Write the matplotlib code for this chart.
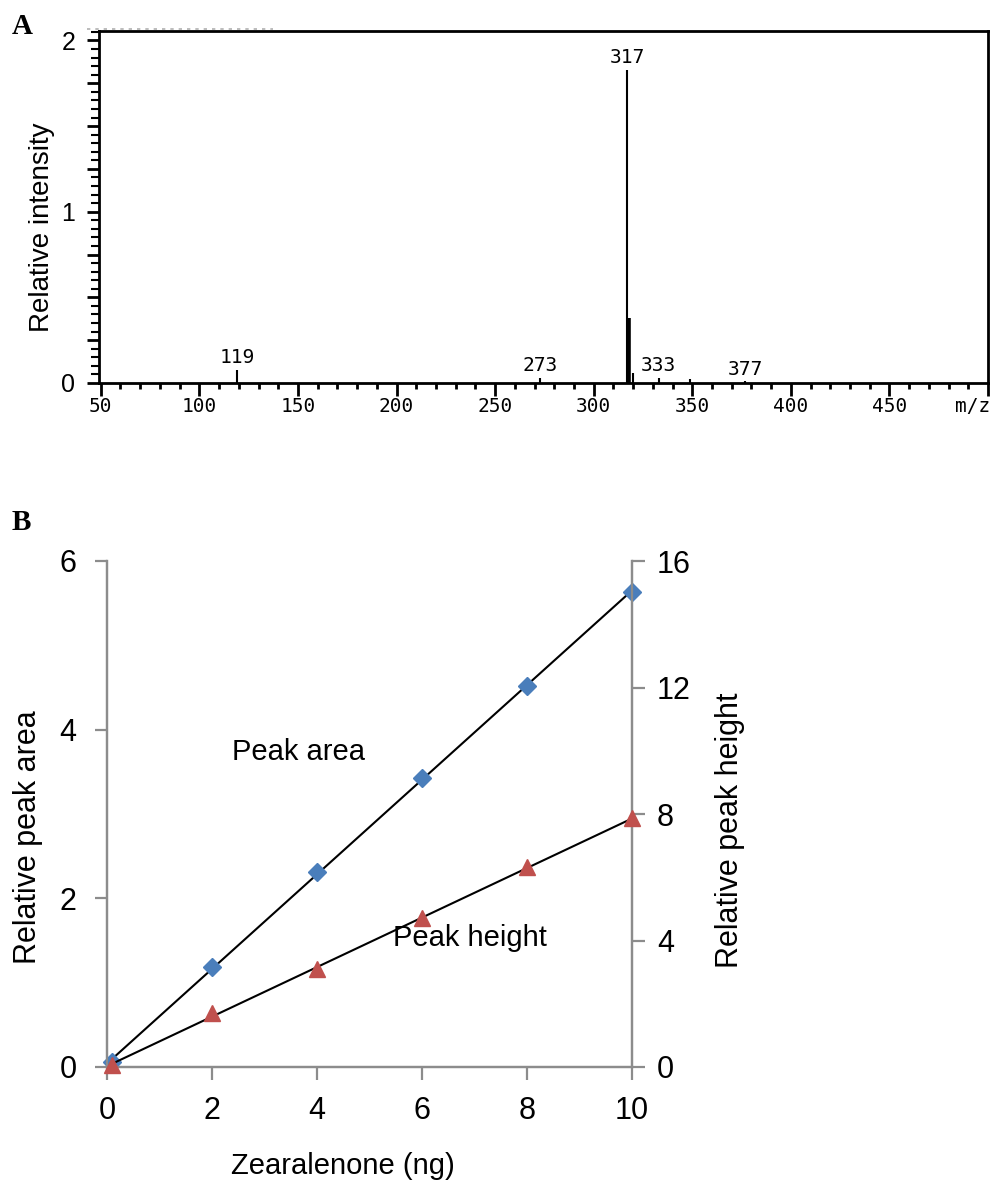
import numpy as np
import matplotlib
matplotlib.use("Agg")
import matplotlib.pyplot as plt
from matplotlib.ticker import MultipleLocator, FixedLocator, FuncFormatter

# ---------------- data ----------------
# Panel A: mass spectrum
mz = [119, 273, 317, 318, 320, 333, 349, 377]
intensity = [0.076, 0.03, 1.83, 0.38, 0.06, 0.03, 0.025, 0.01]
labeled_mz = [119, 273, 317, 333, 377]
a_xticks = [50, 100, 150, 200, 250, 300, 350, 400, 450]
a_yticks = [0, 1, 2]

# Panel B: calibration
amount_ng = [0.1, 2, 4, 6, 8, 10]
peak_area = [0.06, 1.18, 2.31, 3.43, 4.52, 5.63]
peak_height = [0.05, 1.72, 3.09, 4.70, 6.31, 7.86]
b_xticks = [0, 2, 4, 6, 8, 10]
b_left_ticks = [0, 2, 4, 6]
b_right_ticks = [0, 4, 8, 12, 16]

# ---------------- figure ----------------
W, H = 992, 1196
fig = plt.figure(figsize=(W / 100, H / 100), dpi=100)
sans = ["Liberation Sans", "DejaVu Sans"]
mono = ["DejaVu Sans Mono"]

# ---------------- Panel A ----------------
axA = fig.add_axes([99 / W, 1 - 383 / H, (988 - 99) / W, (383 - 31) / H])
lws = [2.6 if m == 318 else 1.5 for m in mz]
axA.vlines(mz, 0, intensity, colors="black", linewidths=lws)
for m in labeled_mz:
    h = intensity[mz.index(m)]
    axA.annotate(str(m), (m, h), xytext=(0, 2), textcoords="offset points",
                 ha="center", va="bottom", family=mono, fontsize=14)
axA.set_xlim(49.1, 500)
axA.set_ylim(0, 2.055)
for s in axA.spines.values():
    s.set_linewidth(2)
    s.set_color("black")
axA.xaxis.set_major_locator(FixedLocator(a_xticks + [500]))
axA.set_xticklabels([str(t) for t in a_xticks] + [""])
axA.xaxis.set_minor_locator(MultipleLocator(10))
axA.yaxis.set_major_locator(MultipleLocator(0.25))
axA.yaxis.set_minor_locator(MultipleLocator(0.05))
axA.yaxis.set_major_formatter(FuncFormatter(
    lambda v, p: str(int(round(v))) if any(abs(v - t) < 1e-6 for t in a_yticks) else ""))
axA.tick_params(axis="x", which="major", direction="out", length=9, width=2,
                pad=1, labelsize=14)
axA.tick_params(axis="x", which="minor", direction="out", length=4.5, width=2)
axA.tick_params(axis="y", which="major", direction="out", length=9, width=2,
                pad=8, labelsize=18)
axA.tick_params(axis="y", which="minor", direction="out", length=5.5, width=1.5)
for lab in axA.get_xticklabels():
    lab.set_family(mono)
for lab in axA.get_yticklabels():
    lab.set_family(sans)
axA.annotate("m/z", (492, 0), xytext=(0, -10), textcoords="offset points",
             ha="center", va="top", family=mono, fontsize=14)
axA.set_ylabel("Relative intensity", family=sans, fontsize=20)
axA.yaxis.set_label_coords(-0.05, 0.443)
axA.plot([-0.0135, 0.196], [1.006, 1.006], transform=axA.transAxes, ls=(0, (2, 3)),
         color="#b0b0b0", lw=1.2, clip_on=False)

fig.text(12 / W, 1 - 27 / H, "A", family=["Liberation Serif", "DejaVu Serif"],
         fontweight="bold", fontsize=21, va="center", ha="left")

# ---------------- Panel B ----------------
grey = "#8c8c8c"
axB = fig.add_axes([107 / W, 1 - 1067 / H, (632 - 107) / W, (1067 - 561) / H])
axB2 = axB.twinx()

xa = np.array(amount_ng)
fa = np.polyfit(xa, peak_area, 1)
fh = np.polyfit(xa, peak_height, 1)
xl = np.array([min(amount_ng), max(amount_ng)])
axB.plot(xl, np.polyval(fa, xl), color="black", lw=1.5, zorder=2)
axB2.plot(xl, np.polyval(fh, xl), color="black", lw=1.5, zorder=2)
axB.plot(amount_ng, peak_area, ls="none", marker="D", ms=9, color="#4a7ebb",
         zorder=3, clip_on=False)
axB2.plot(amount_ng, peak_height, ls="none", marker="^", ms=11, color="#c0504d",
          zorder=3, clip_on=False)

axB.set_xlim(0, 10)
axB.set_ylim(0, 6)
axB2.set_ylim(0, 16)
axB.set_xticks(b_xticks)
axB.set_yticks(b_left_ticks)
axB2.set_yticks(b_right_ticks)
for ax in (axB, axB2):
    ax.spines["top"].set_visible(False)
    for s in ("left", "right", "bottom"):
        ax.spines[s].set_color(grey)
        ax.spines[s].set_linewidth(1.6)
    ax.tick_params(colors=grey, width=1.6, length=9, direction="out",
                   labelcolor="black", labelsize=22)
axB.tick_params(axis="y", pad=13)
axB.tick_params(axis="x", pad=12)
axB2.tick_params(axis="y", pad=9)
for ax in (axB, axB2):
    for lab in ax.get_xticklabels() + ax.get_yticklabels():
        lab.set_family(sans)

axB.set_xlabel("Zearalenone (ng)", family=sans, fontsize=21)
axB.xaxis.set_label_coords(0.45, -0.168)
axB.set_ylabel("Relative peak area", family=sans, fontsize=22)
axB.yaxis.set_label_coords(-0.122, 0.455)
axB2.set_ylabel("Relative peak height", family=sans, fontsize=22)
axB2.yaxis.set_label_coords(1.158, 0.468)

axB.text(2.38, 3.74, "Peak area", family=sans, fontsize=21, ha="left", va="center")
axB.text(5.44, 1.53, "Peak height", family=sans, fontsize=21, ha="left", va="center")

fig.text(12 / W, 1 - 523 / H, "B", family=["Liberation Serif", "DejaVu Serif"],
         fontweight="bold", fontsize=21, va="center", ha="left")

fig.savefig("out.png", dpi=100)
